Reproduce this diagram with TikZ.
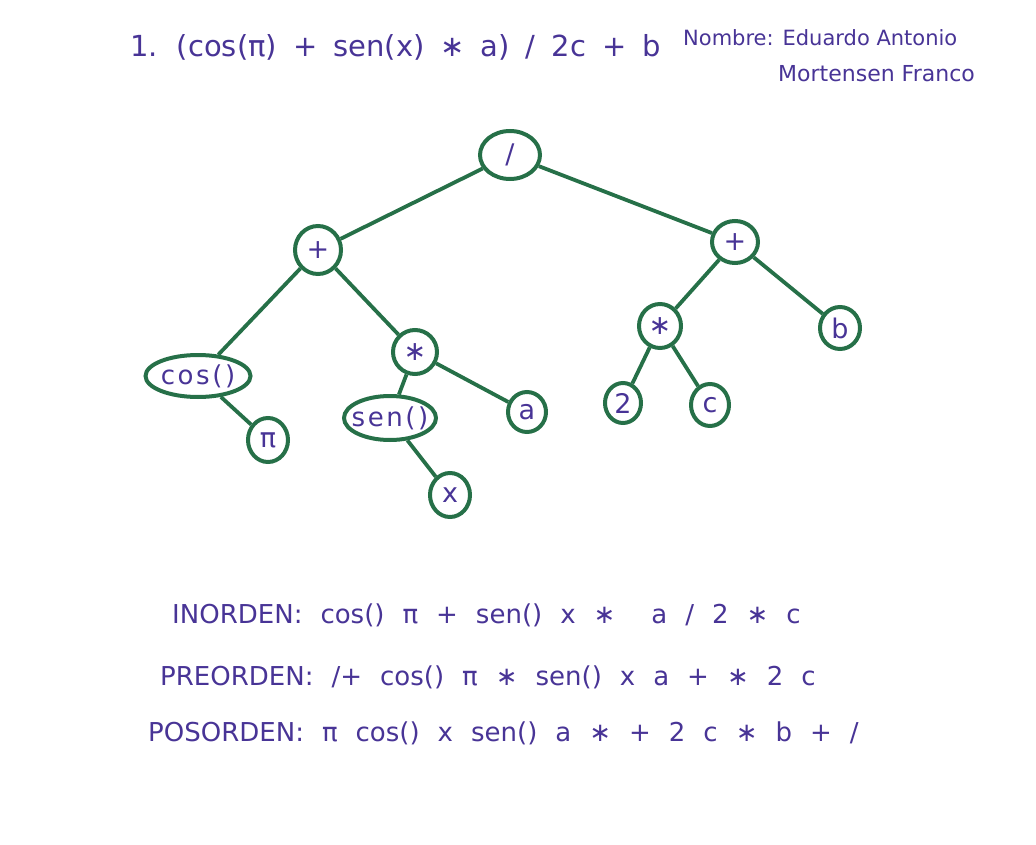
\documentclass[tikz,border=0pt]{standalone}
\usepackage{fontspec}
\setmainfont{DejaVu Sans}
\usetikzlibrary{shapes}
\definecolor{marker}{RGB}{38,112,72}
\definecolor{ink}{RGB}{72,52,150}
\newcommand{\anchoenunciado}{\fontsize{29}{32}\selectfont\spaceskip 16pt\relax}
\newcommand{\anchorecorrido}{\fontsize{26}{28}\selectfont\spaceskip 18pt\relax}
\newcommand{\anchofuncion}{\fontsize{26}{28}\selectfont\addfontfeature{LetterSpace=10}}

\begin{document}
\begin{tikzpicture}[x=1pt,y=-1pt,
  hoja/.style={ellipse,draw=marker,line width=4pt,text=ink,inner sep=0pt,
    font=\fontsize{27}{29}\selectfont},
  funcion/.style={hoja,inner xsep=-14pt,font=\anchofuncion},
  rama/.style={marker,line width=3.8pt},
  letra/.style={text=ink,inner sep=0pt,anchor=west}]
\useasboundingbox (0,0) rectangle (1036,845);
%%%%%%%%% enunciado
\node [letra,font=\anchoenunciado] (expr) at (130,47)
  {1. (cos(π) + sen(x) ∗ a) / 2c + b};
\node [letra,font=\fontsize{21}{24}\selectfont] (nombre) at (683,38)
  {Nombre: Eduardo Antonio};
\node [letra,font=\fontsize{22}{24}\selectfont] (apellido) at (778,74)
  {Mortensen Franco};
%%%%%%%%% arbol
\node [hoja,minimum width=60,minimum height=48] (div) at (510,155) {/};
\node [hoja,minimum width=46,minimum height=48] (sumaI) at (318,250) {+};
\node [hoja,minimum width=46,minimum height=42] (sumaD) at (735,242) {+};
\node [funcion,minimum width=105,minimum height=42] (cos) at (198,376) {cos()};
\node [hoja,minimum width=40,minimum height=44] (pi) at (268,440) {π};
\node [hoja,minimum width=44,minimum height=44] (porI) at (415,352) {∗};
\node [funcion,minimum width=92,minimum height=44] (sen) at (390,418) {sen()};
\node [hoja,minimum width=38,minimum height=40] (a) at (527,412) {a};
\node [hoja,minimum width=40,minimum height=44] (x) at (450,495) {x};
\node [hoja,minimum width=42,minimum height=44] (porD) at (660,326) {∗};
\node [hoja,minimum width=40,minimum height=42] (b) at (840,328) {b};
\node [hoja,minimum width=36,minimum height=40] (dos) at (623,403) {2};
\node [hoja,minimum width=38,minimum height=42] (c) at (710,405) {c};
%%%%%%%%% ramas
\draw [rama] (div) -- (sumaI);
\draw [rama] (div) -- (sumaD);
\draw [rama] (sumaI) -- (cos);
\draw [rama] (sumaI) -- (porI);
\draw [rama] (cos) -- (pi);
\draw [rama] (porI) -- (sen);
\draw [rama] (porI) -- (a);
\draw [rama] (sen) -- (x);
\draw [rama] (sumaD) -- (porD);
\draw [rama] (sumaD) -- (b);
\draw [rama] (porD) -- (dos);
\draw [rama] (porD) -- (c);
%%%%%%%%% recorridos
\node [letra,font=\anchorecorrido] (inorden) at (172,615)
  {INORDEN: cos() π + sen() x ∗ \ a / 2 ∗ c};
\node [letra,font=\anchorecorrido] (preorden) at (160,677)
  {PREORDEN: /+ cos() π ∗ sen() x a + ∗ 2 c};
\node [letra,font=\anchorecorrido] (posorden) at (148,733)
  {POSORDEN: π cos() x sen() a ∗ + 2 c ∗ b + /};
\end{tikzpicture}
\end{document}
